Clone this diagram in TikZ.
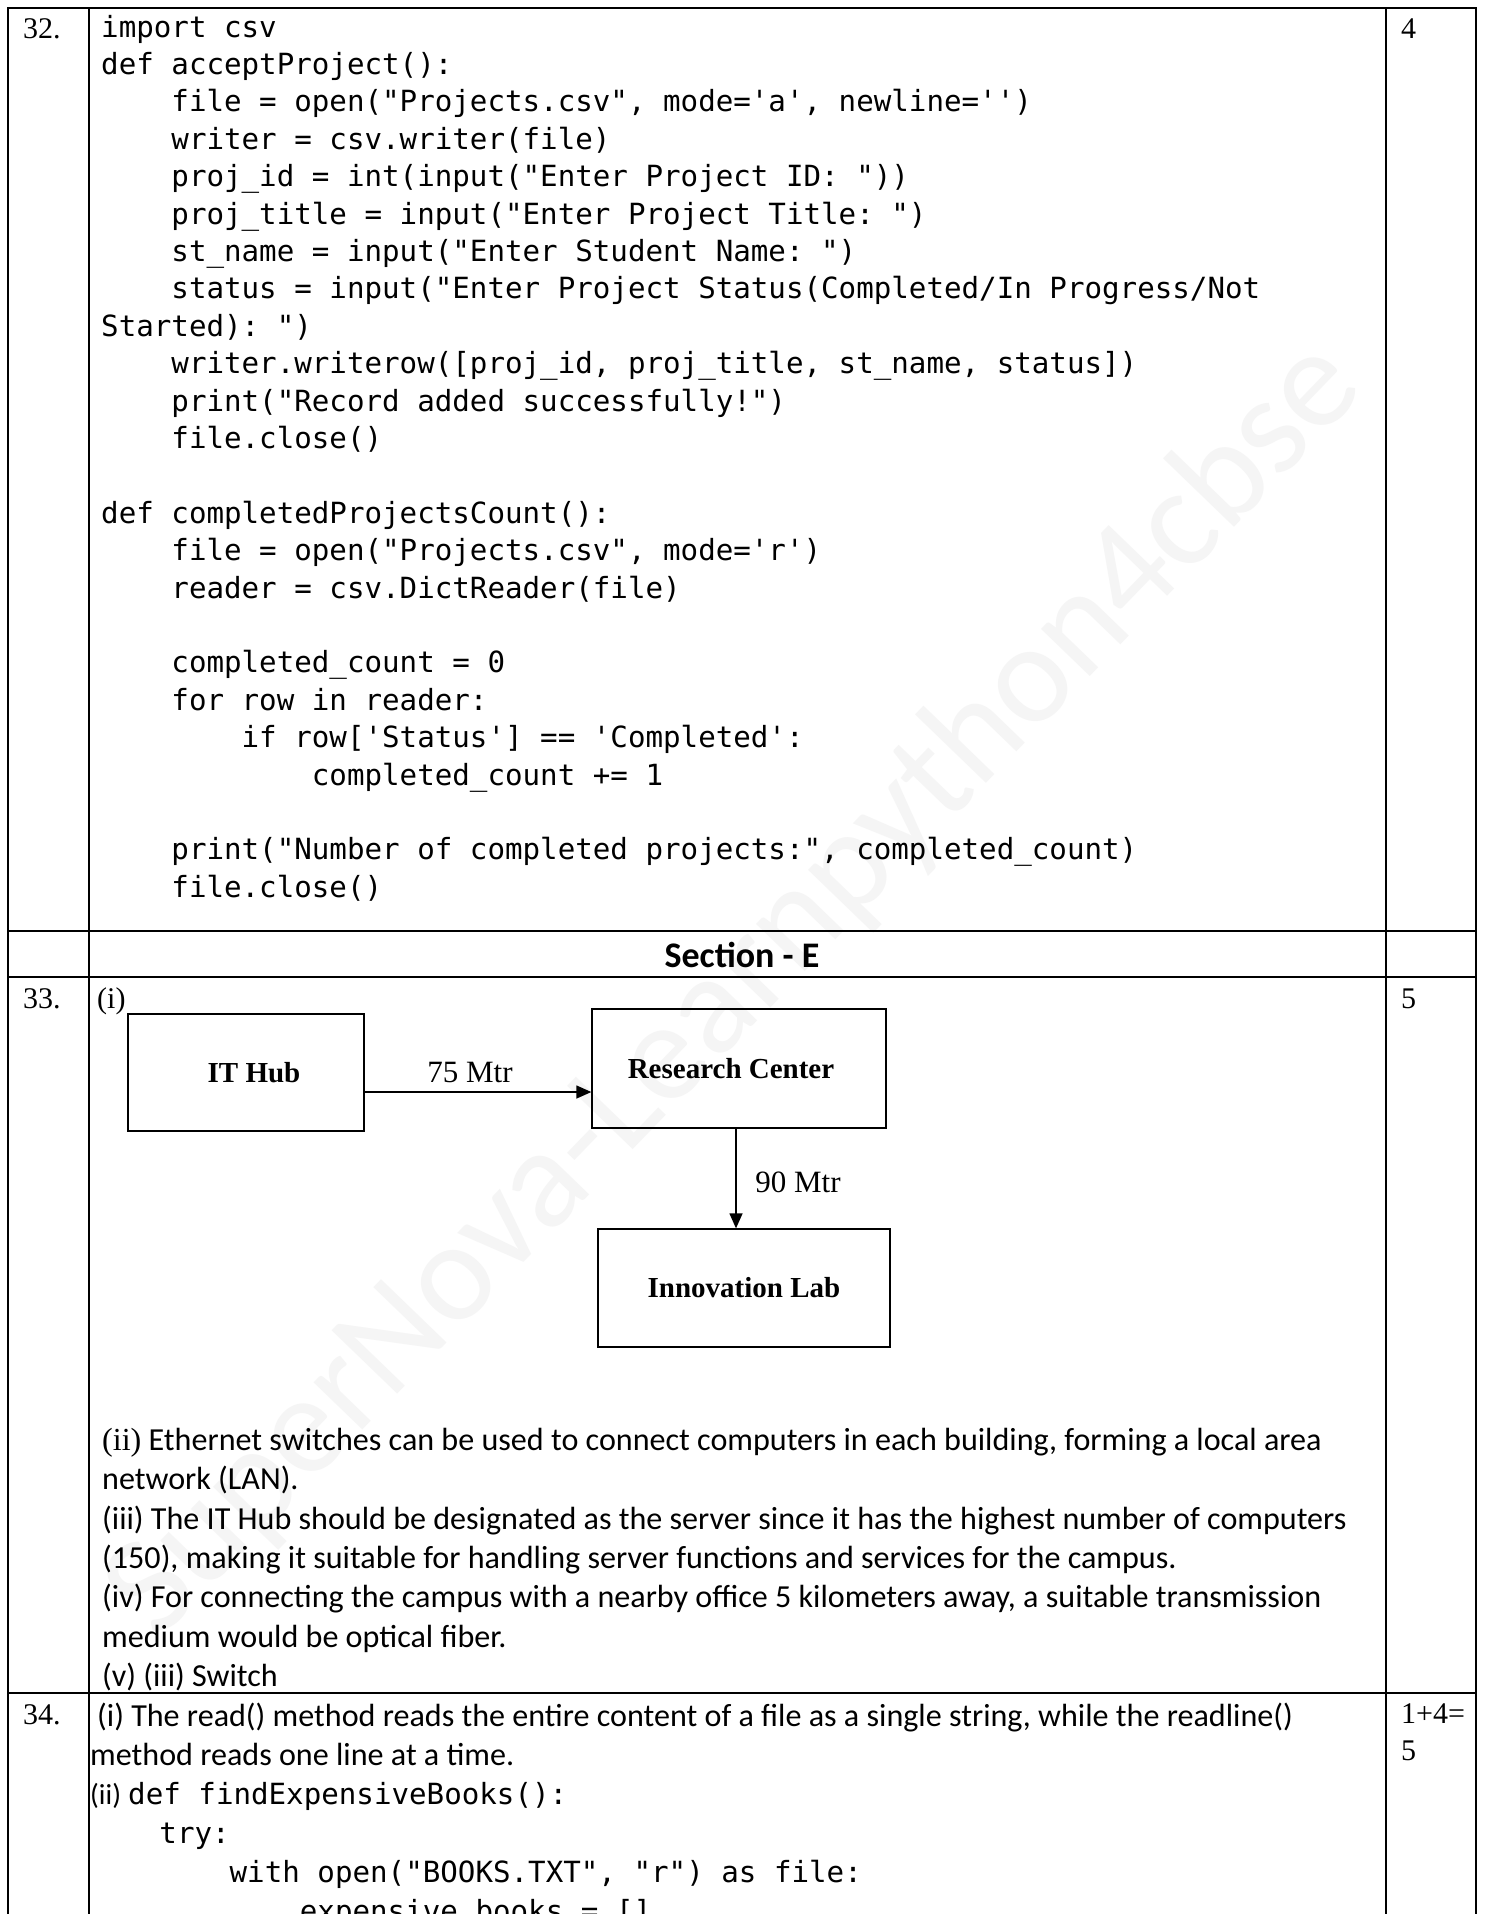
\documentclass[tikz,border=0pt]{standalone}
\usepackage{fontspec}
\setmainfont{Liberation Serif}
\setmonofont{DejaVu Sans Mono}
\newfontfamily\calfont{Carlito}
\usetikzlibrary{arrows.meta}
\newcommand\codeln[4]{\node[codetxt] (#1) at ({#2},{#3}) {#4};}
\newcommand\bodyln[4]{\node[bodytxt] (#1) at ({#2},{#3}) {#4};}
\begin{document}
\begin{tikzpicture}[x=1pt,y=-1pt,
  tblline/.style={line width=1.7pt},
  bldg/.style={draw, line width=1.3pt, inner sep=0pt, font=\bfseries\fontsize{29}{34}\selectfont},
  arr/.style={line width=1.3pt, -{Triangle[length=15pt,width=13pt]}},
  numtxt/.style={anchor=base west, inner sep=0pt, font=\fontsize{30}{36}\selectfont},
  codetxt/.style={anchor=base west, inner sep=0pt, font=\ttfamily\fontsize{29.17}{37}\selectfont},
  bodytxt/.style={anchor=base west, inner sep=0pt, font=\calfont\fontsize{32.1}{39}\selectfont},
  dist/.style={anchor=base, inner sep=0pt, font=\fontsize{31}{36}\selectfont}]
\useasboundingbox (0,0) rectangle (1486,1914);
\fill[white] (0,0) rectangle (1486,1914);
% watermark
\node[rotate=46, text=black!4, inner sep=0pt, font=\calfont\fontsize{142}{150}\selectfont] (wm) at (735,990) {SuperNova-Learnpython4cbse};
% table grid
\draw[tblline] (8,1914) -- (8,8) -- (1476,8) -- (1476,1914);
\draw[tblline] (89,8) -- (89,1914);
\draw[tblline] (1386,8) -- (1386,1914);
\draw[tblline] (8,931) -- (1476,931);
\draw[tblline] (8,977) -- (1476,977);
\draw[tblline] (8,1693) -- (1476,1693);
% numbers and marks
\node[numtxt] (n32) at (23,38) {32.};
\node[numtxt] (n33) at (23,1008) {33.};
\node[numtxt] (n34) at (23,1724) {34.};
\node[numtxt] (m32) at (1401,38) {4};
\node[numtxt] (m33) at (1401,1008) {5};
\node[numtxt] (m34a) at (1401,1723) {1+4=};
\node[numtxt] (m34b) at (1401,1760) {5};
% question 32 code
\codeln{c0}{101}{37}{import csv}
\codeln{c1}{101}{37+37.4}{def acceptProject():}
\codeln{c2}{101+4*17.56}{37+2*37.4}{file = open("Projects.csv", mode='a', newline='')}
\codeln{c3}{101+4*17.56}{37+3*37.4}{writer = csv.writer(file)}
\codeln{c4}{101+4*17.56}{37+4*37.4}{proj\_id = int(input("Enter Project ID: "))}
\codeln{c5}{101+4*17.56}{37+5*37.4}{proj\_title = input("Enter Project Title: ")}
\codeln{c6}{101+4*17.56}{37+6*37.4}{st\_name = input("Enter Student Name: ")}
\codeln{c7}{101+4*17.56}{37+7*37.4}{status = input("Enter Project Status(Completed/In Progress/Not}
\codeln{c8}{101}{37+8*37.4}{Started): ")}
\codeln{c9}{101+4*17.56}{37+9*37.4}{writer.writerow([proj\_id, proj\_title, st\_name, status])}
\codeln{c10}{101+4*17.56}{37+10*37.4}{print("Record added successfully!")}
\codeln{c11}{101+4*17.56}{37+11*37.4}{file.close()}
\codeln{c13}{101}{37+13*37.4}{def completedProjectsCount():}
\codeln{c14}{101+4*17.56}{37+14*37.4}{file = open("Projects.csv", mode='r')}
\codeln{c15}{101+4*17.56}{37+15*37.4}{reader = csv.DictReader(file)}
\codeln{c17}{101+4*17.56}{37+17*37.4}{completed\_count = 0}
\codeln{c18}{101+4*17.56}{37+18*37.4}{for row in reader:}
\codeln{c19}{101+8*17.56}{37+19*37.4}{if row['Status'] == 'Completed':}
\codeln{c20}{101+12*17.56}{37+20*37.4}{completed\_count += 1}
\codeln{c22}{101+4*17.56}{37+22*37.4}{print("Number of completed projects:", completed\_count)}
\codeln{c23}{101+4*17.56}{37+23*37.4}{file.close()}
% section heading
\node[anchor=base, inner sep=0pt, font=\calfont\bfseries\fontsize{36}{40}\selectfont] (sec) at (742,967) {Section - E};
% question 33 diagram
\node[numtxt] (q33i) at (97,1008) {(i)};
\node[bldg, minimum width=236pt, minimum height=117pt] (ithub) at (246,1072.5) {\raisebox{-3pt}{\hspace*{16pt}IT Hub}};
\node[bldg, minimum width=294pt, minimum height=119pt] (research) at (739,1068.5) {\raisebox{-4pt}{Research Center\hspace*{16pt}}};
\node[bldg, minimum width=292pt, minimum height=118pt] (innov) at (744,1288) {\raisebox{-4pt}{Innovation Lab}};
\draw[arr] (ithub.east |- 0,1092) -- (research.west |- 0,1092);
\draw[arr] (research.south -| 736,0) -- (innov.north -| 736,0);
\node[dist] (d75) at (470,1082) {75 Mtr};
\node[dist] (d90) at (798,1192) {90 Mtr};
% question 33 answers
\bodyln{a2}{102}{1450}{{\rmfamily (ii)} Ethernet switches can be used to connect computers in each building, forming a local area}
\bodyln{a2b}{102}{1489}{network (LAN).}
\bodyln{a3}{102}{1529}{(iii) The IT Hub should be designated as the server since it has the highest number of computers}
\bodyln{a3b}{102}{1568}{(150), making it suitable for handling server functions and services for the campus.}
\bodyln{a4}{102}{1607}{(iv) For connecting the campus with a nearby office 5 kilometers away, a suitable transmission}
\bodyln{a4b}{102}{1647}{medium would be optical fiber.}
\bodyln{a5}{102}{1686}{(v) (iii) Switch}
% question 34
\bodyln{b1}{97}{1726}{(i) The read() method reads the entire content of a file as a single string, while the readline()}
\bodyln{b1b}{90}{1765}{method reads one line at a time.}
\node[anchor=base west, inner sep=0pt, font=\calfont\fontsize{29}{33}\selectfont] (b2lab) at (90,1804) {(ii)};
\codeln{b2}{128}{1804}{def findExpensiveBooks():}
\codeln{b3}{89+4*17.56}{1843}{try:}
\codeln{b4}{89+8*17.56}{1882}{with open("BOOKS.TXT", "r") as file:}
\codeln{b5}{89+12*17.56}{1921}{expensive\_books = []}
\end{tikzpicture}
\end{document}
